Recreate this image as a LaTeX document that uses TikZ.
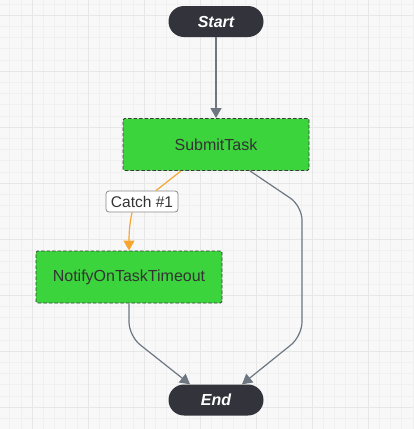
\documentclass[tikz,border=0pt]{standalone}
\usepackage{fontspec}
\setmainfont{Liberation Sans}
\usetikzlibrary{arrows.meta}

\definecolor{gridbg}{HTML}{F8F8F8}
\definecolor{gridmajor}{HTML}{E7E7E7}
\definecolor{gridminor}{HTML}{F0F0F0}
\definecolor{pilldark}{HTML}{33333B}
\definecolor{taskgreen}{HTML}{3CD43C}
\definecolor{taskborder}{HTML}{3A3A3A}
\definecolor{tasktext}{HTML}{333333}
\definecolor{flowgray}{HTML}{6E7681}
\definecolor{catchorange}{HTML}{F7A531}
\definecolor{labelborder}{HTML}{8A8A8A}

\begin{document}
\begin{tikzpicture}[x=1pt,y=-1pt,
  terminal/.style={fill=pilldark,rounded corners=15.5pt,minimum width=95pt,minimum height=31pt,
    text=white,font=\fontsize{16}{19}\selectfont\bfseries\itshape},
  taskbox/.style={draw=taskborder,fill=taskgreen,dash pattern=on 3.5pt off 2pt,line width=0.9pt,
    rounded corners=1.5pt,minimum width=186pt,minimum height=52pt,text=tasktext,
    font=\fontsize{16}{19}\selectfont},
  catchlabel/.style={draw=labelborder,fill=white,rounded corners=3pt,line width=0.8pt,
    minimum width=72pt,minimum height=21pt,inner sep=0pt,text=tasktext,font=\fontsize{15.5}{18}\selectfont},
  flow/.style={draw=flowgray,line width=1.2pt,-{Triangle[width=11pt,length=10pt]}},
  catchflow/.style={draw=catchorange,line width=1.2pt}]

\useasboundingbox (0,0) rectangle (413,429);
\fill[gridbg] (0,0) rectangle (413,429);

% grid
\foreach \i in {0,...,36} {\draw[gridminor,line width=0.5pt] ({9.6+11.2*\i},0) -- ++(0,429);}
\foreach \i in {0,...,38} {\draw[gridminor,line width=0.5pt] (0,{3.8+11.2*\i}) -- ++(413,0);}
\foreach \x in {32,88,...,368} {\draw[gridmajor,line width=1pt] (\x,0) -- ++(0,429);}
\foreach \y in {15,71,...,407} {\draw[gridmajor,line width=1pt] (0,\y) -- ++(413,0);}

\node[terminal] (start) at (216,21.5) {Start};
\node[taskbox] (submit) at (216,144.5) {SubmitTask};
\node[catchlabel] (catch) at (142,201.5) {Catch \#1};
\node[taskbox] (notify) at (129,277) {NotifyOnTaskTimeout};
\node[terminal] (endst) at (216,400) {End};

\draw[flow] (start) -- (submit);

\coordinate (c1) at ([xshift=-35pt]submit.south);
\draw[catchflow] (c1) -- (catch);
\draw[catchflow,-{Triangle[width=11pt,length=10pt]}] ([xshift=-10pt]catch.south)
  .. controls +(-2,10) and +(0,-20) .. (notify.north);

\coordinate (r1) at (302,206);
\coordinate (r2) at (302,336);
\draw[flow,rounded corners=14pt] ([xshift=34pt]submit.south) -- (r1) -- (r2) -- ([xshift=26pt]endst.north);

\coordinate (l1) at (129,336);
\draw[flow,rounded corners=14pt] (notify.south) -- (l1) -- ([xshift=-26pt]endst.north);

\end{tikzpicture}
\end{document}
